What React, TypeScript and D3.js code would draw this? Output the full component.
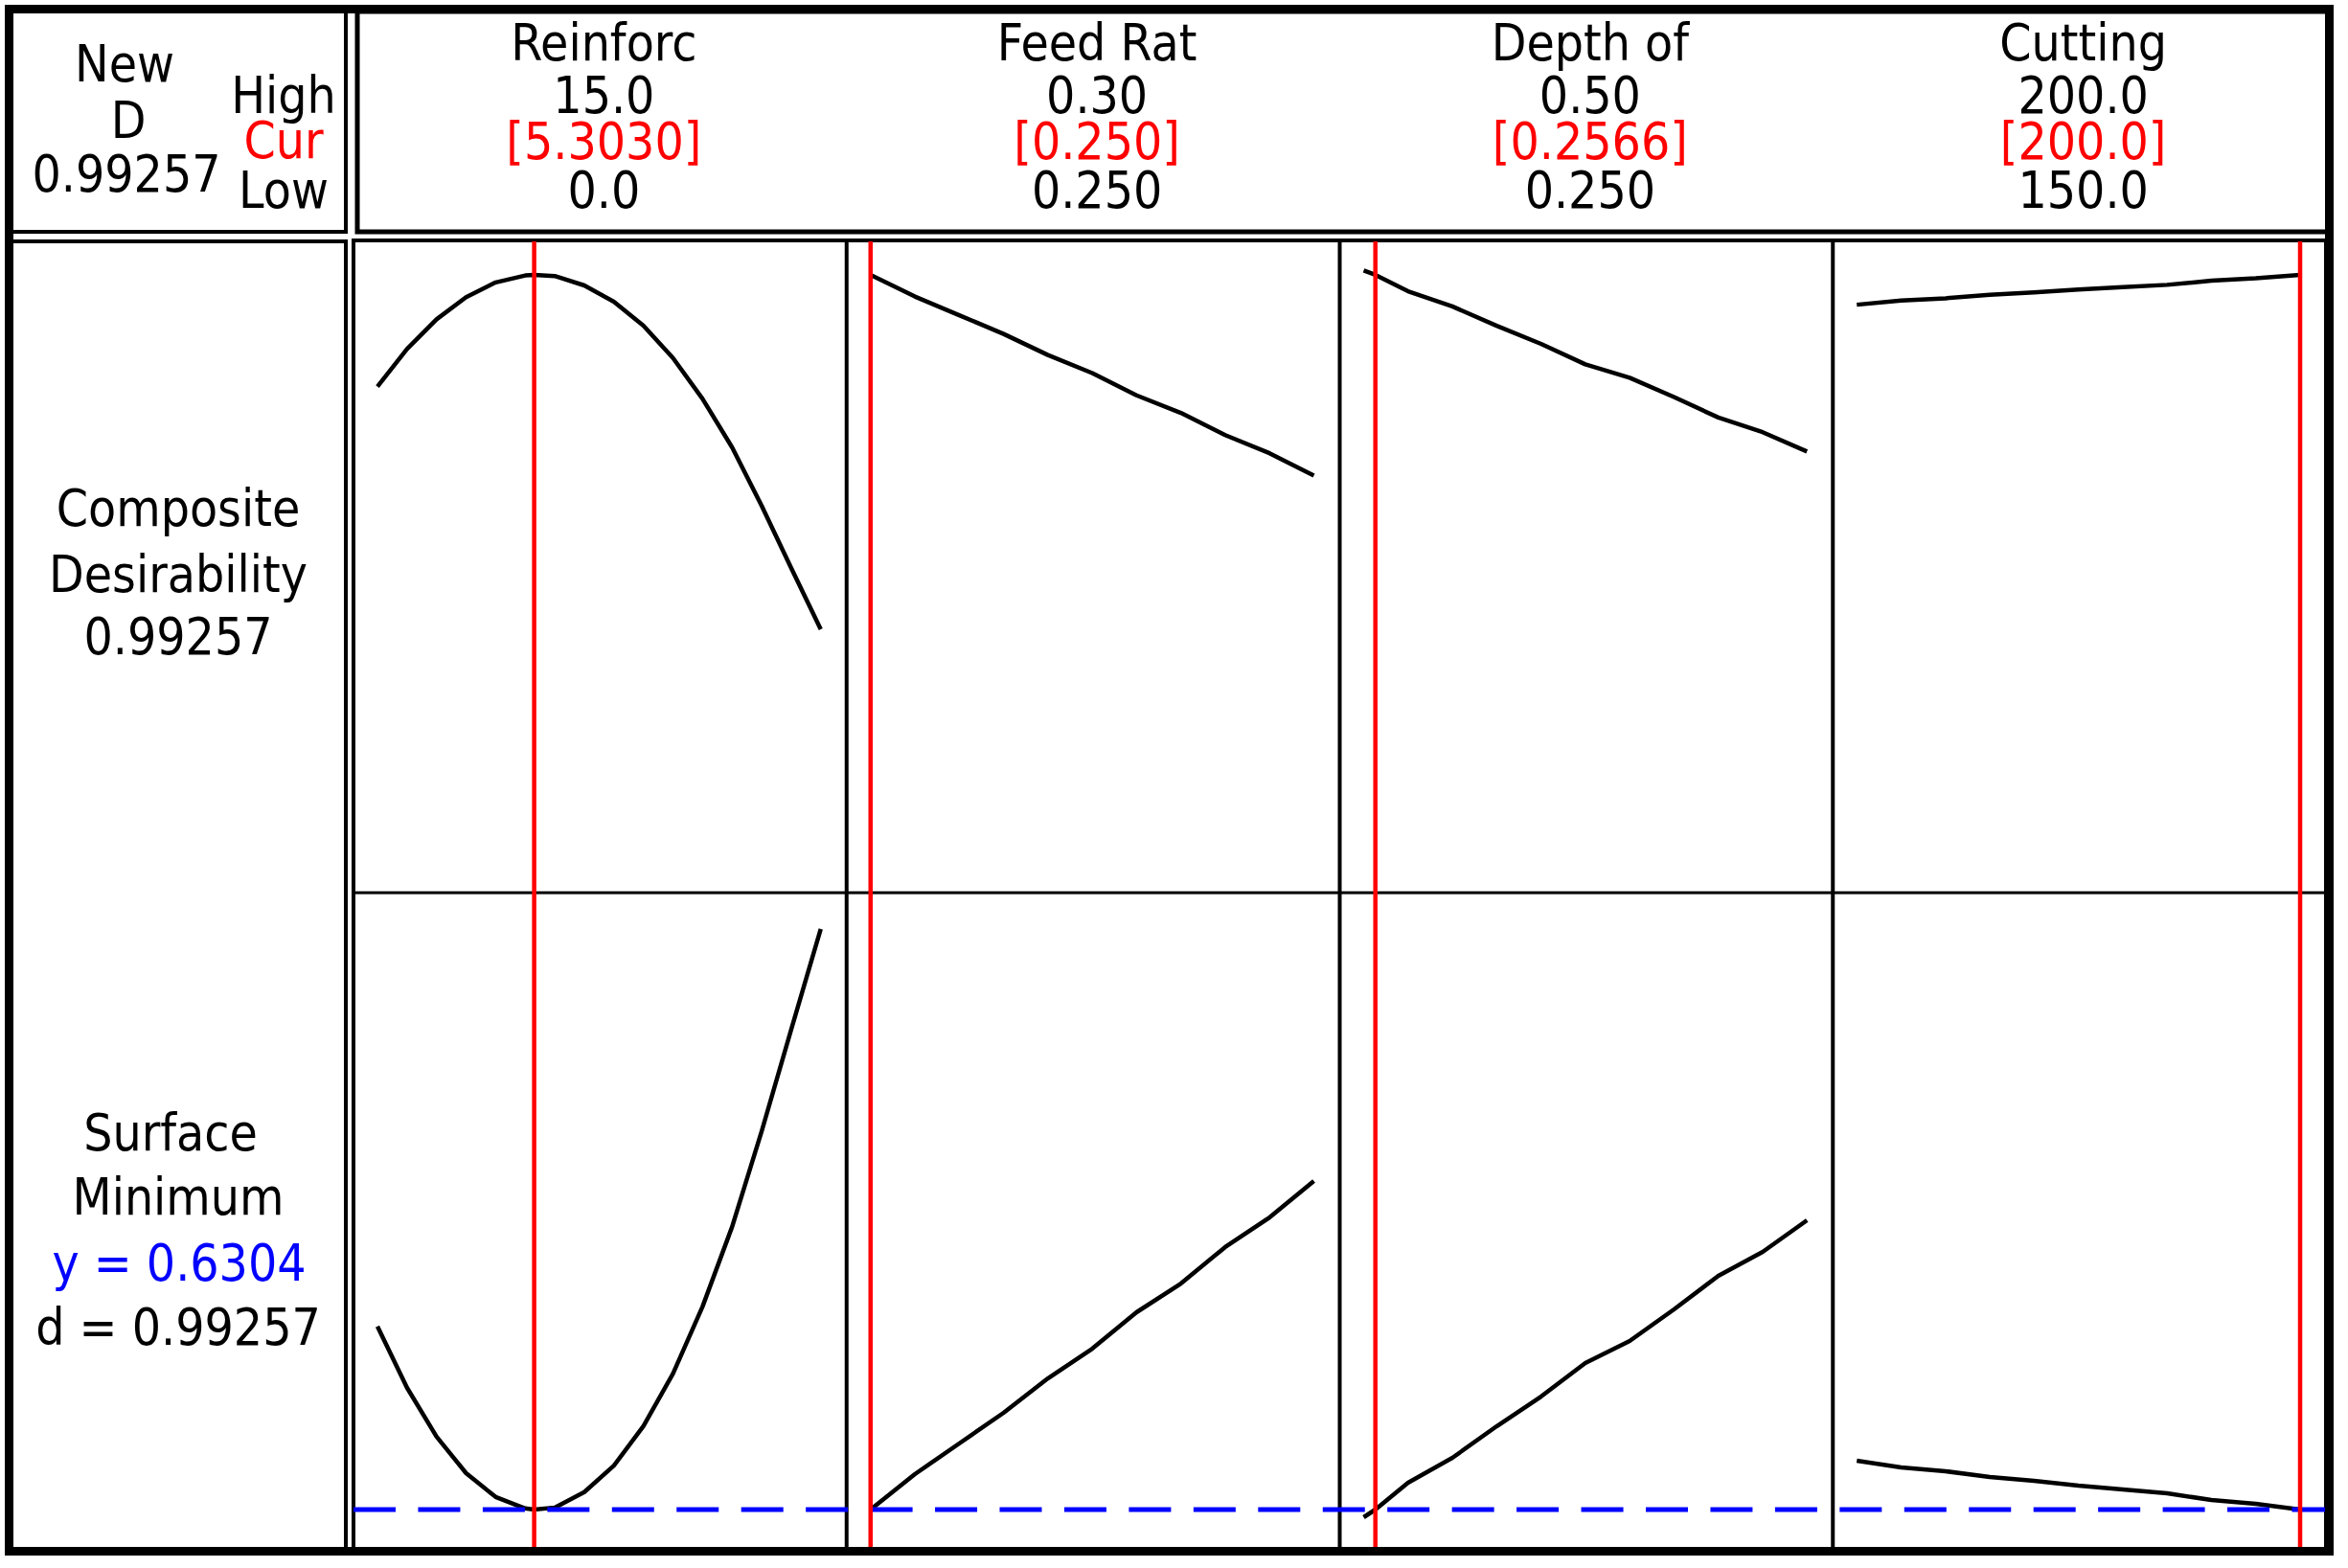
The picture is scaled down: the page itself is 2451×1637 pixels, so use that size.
import React from "react";
import * as d3 from "d3";

// Factor header rows (High / Cur / Low)
const factorNames = ["Reinforc", "Feed Rat", "Depth of", "Cutting"];
const highLabels = ["15.0", "0.30", "0.50", "200.0"];
const curLabels = ["[5.3030]", "[0.250]", "[0.2566]", "[200.0]"];
const lowLabels = ["0.0", "0.250", "0.250", "150.0"];
const factorLow = [0, 0.25, 0.25, 150];
const factorHigh = [15, 0.3, 0.5, 200];
const factorCur = [5.303, 0.25, 0.2566, 200];

// Response: Surface (minimize) and its desirability
const reinforcX = [0, 1, 2, 3, 4, 5, 5.303, 6, 7, 8, 9, 10, 11, 12, 13, 14, 15];
const reinforcSurface = [1.046, 0.907, 0.796, 0.713, 0.659, 0.633, 0.6304, 0.635, 0.67, 0.73, 0.82, 0.939, 1.091, 1.272, 1.489, 1.72, 1.948];
const reinforcDesir = [0.8033, 0.8668, 0.9173, 0.9549, 0.9798, 0.9916, 0.99257, 0.9906, 0.9747, 0.9471, 0.9066, 0.8518, 0.7825, 0.7004, 0.6014, 0.4958, 0.392];

const feedX = [0.25, 0.255, 0.26, 0.265, 0.27, 0.275, 0.28, 0.285, 0.29, 0.295, 0.3];
const feedSurface = [0.6304, 0.7108, 0.7804, 0.85, 0.9282, 0.9956, 1.0782, 1.1434, 1.2261, 1.2934, 1.3761];
const feedDesir = [0.99257, 0.9559, 0.9242, 0.8925, 0.8568, 0.8261, 0.7884, 0.7587, 0.721, 0.6903, 0.6526];

const depthX = [0.25, 0.2566, 0.275, 0.3, 0.325, 0.35, 0.375, 0.4, 0.425, 0.45, 0.475, 0.5];
const depthSurface = [0.613, 0.6304, 0.6913, 0.7478, 0.8195, 0.8869, 0.963, 1.013, 1.0847, 1.1608, 1.2152, 1.2869];
const depthDesir = [1.0, 0.99257, 0.9648, 0.9391, 0.9064, 0.8757, 0.841, 0.8182, 0.7855, 0.7508, 0.726, 0.6933];

const cuttingX = [150, 155, 160, 165, 170, 175, 180, 185, 190, 195, 200];
const cuttingSurface = [0.7413, 0.7261, 0.7174, 0.7043, 0.6956, 0.6847, 0.6761, 0.6674, 0.6521, 0.6434, 0.6304];
const cuttingDesir = [0.942, 0.949, 0.9529, 0.9589, 0.9629, 0.9678, 0.9718, 0.9757, 0.9827, 0.9867, 0.99257];

const optimumY = 0.6304;
const compositeD = "0.99257";

// layout
const W = 2451;
const H = 1637;
const plotLeft = 369;
const plotRight = 2428;
const plotTop = 251;
const rowSplit = 932;
const plotBottom = 1620;
const FONT = "'DejaVu Sans Condensed', 'DejaVu Sans', sans-serif";
const FS = 53;

export default function App() {
  const col = d3.scaleBand<string>().domain(factorNames).range([plotLeft, plotRight]);
  const bw = col.bandwidth();
  const yDesir = d3.scaleLinear().domain([-0.0545, 1.0526]).range([rowSplit, plotTop - 1]);
  const ySurf = d3.scaleLinear().domain([0.5304, 2.0304]).range([plotBottom + 2, rowSplit]);

  const curves = [
    { x: reinforcX, d: reinforcDesir, y: reinforcSurface },
    { x: feedX, d: feedDesir, y: feedSurface },
    { x: depthX, d: depthDesir, y: depthSurface },
    { x: cuttingX, d: cuttingDesir, y: cuttingSurface },
  ];

  const xScales = factorNames.map((f, i) => {
    const x0 = col(f) as number;
    return d3.scaleLinear().domain([factorLow[i], factorHigh[i]]).range([x0 + 25, x0 + bw - 27]);
  });

  const txt = (x: number, y: number, s: string, fill = "#000", anchor = "middle") => (
    <text x={x} y={y} fill={fill} textAnchor={anchor} fontFamily={FONT} fontSize={FS}>
      {s}
    </text>
  );

  return (
    <svg
      width={W}
      height={H}
      style={{ position: "absolute", left: 0, top: 0, display: "block", background: "#fff" }}
    >
      <rect x={0} y={0} width={W} height={H} fill="#fff" />

      {/* header: corner box */}
      {txt(130, 85, "New")}
      {txt(134, 144, "D")}
      {txt(132, 200, compositeD)}
      {txt(296, 118, "High")}
      {txt(296, 165, "Cur", "#ff0000")}
      {txt(296, 217, "Low")}

      {/* header: factors */}
      {factorNames.map((f, i) => {
        const cx = (col(f) as number) + bw / 2 + 4;
        return (
          <g key={f}>
            {txt(cx, 63, f)}
            {txt(cx, 118, highLabels[i])}
            {txt(cx, 166, curLabels[i], "#ff0000")}
            {txt(cx, 217, lowLabels[i])}
          </g>
        );
      })}

      {/* row labels */}
      {txt(186, 549, "Composite")}
      {txt(186, 618, "Desirability")}
      {txt(186, 683, compositeD)}
      {txt(178, 1201, "Surface")}
      {txt(186, 1268, "Minimum")}
      {txt(187, 1337, `y = ${optimumY}`, "#0000ff")}
      {txt(186, 1404, `d = ${compositeD}`)}

      {/* boxes */}
      <rect x={12} y={12} width={349} height={230} fill="none" stroke="#000" strokeWidth={4} />
      <rect x={373} y={12} width={2057} height={230} fill="none" stroke="#000" strokeWidth={5} />
      <rect x={12} y={252} width={349} height={1368} fill="none" stroke="#000" strokeWidth={4} />
      <rect x={plotLeft} y={plotTop} width={plotRight - plotLeft} height={plotBottom - plotTop} fill="none" stroke="#000" strokeWidth={4} />

      {/* panel dividers */}
      {factorNames.slice(1).map((f) => (
        <line key={f} x1={col(f)} x2={col(f)} y1={plotTop} y2={plotBottom} stroke="#000" strokeWidth={4} />
      ))}
      <line x1={plotLeft} x2={plotRight} y1={rowSplit} y2={rowSplit} stroke="#000" strokeWidth={3} />

      {/* curves */}
      {curves.map((c, i) => {
        const xs = xScales[i];
        const lineD = d3
          .line<number>()
          .x((_, k) => xs(c.x[k]))
          .y((v) => yDesir(v));
        const lineY = d3
          .line<number>()
          .x((_, k) => xs(c.x[k]))
          .y((v) => ySurf(v));
        return (
          <g key={factorNames[i]} fill="none" stroke="#000" strokeWidth={4.5} strokeLinejoin="round">
            <path d={lineD(c.d) || ""} />
            <path d={lineY(c.y) || ""} />
          </g>
        );
      })}

      {/* optimum response line */}
      <line
        x1={plotLeft}
        x2={plotRight + 2}
        y1={ySurf(optimumY)}
        y2={ySurf(optimumY)}
        stroke="#0000ff"
        strokeWidth={5}
        strokeDasharray="44 23.45"
      />

      {/* current settings */}
      {factorCur.map((v, i) => (
        <line
          key={i}
          x1={xScales[i](v)}
          x2={xScales[i](v)}
          y1={plotTop + 1}
          y2={plotBottom - 1}
          stroke="#ff0000"
          strokeWidth={4.5}
        />
      ))}

      {/* outer frame */}
      <rect x={9.5} y={9.5} width={2422} height={1610} fill="none" stroke="#000" strokeWidth={9} />
    </svg>
  );
}
